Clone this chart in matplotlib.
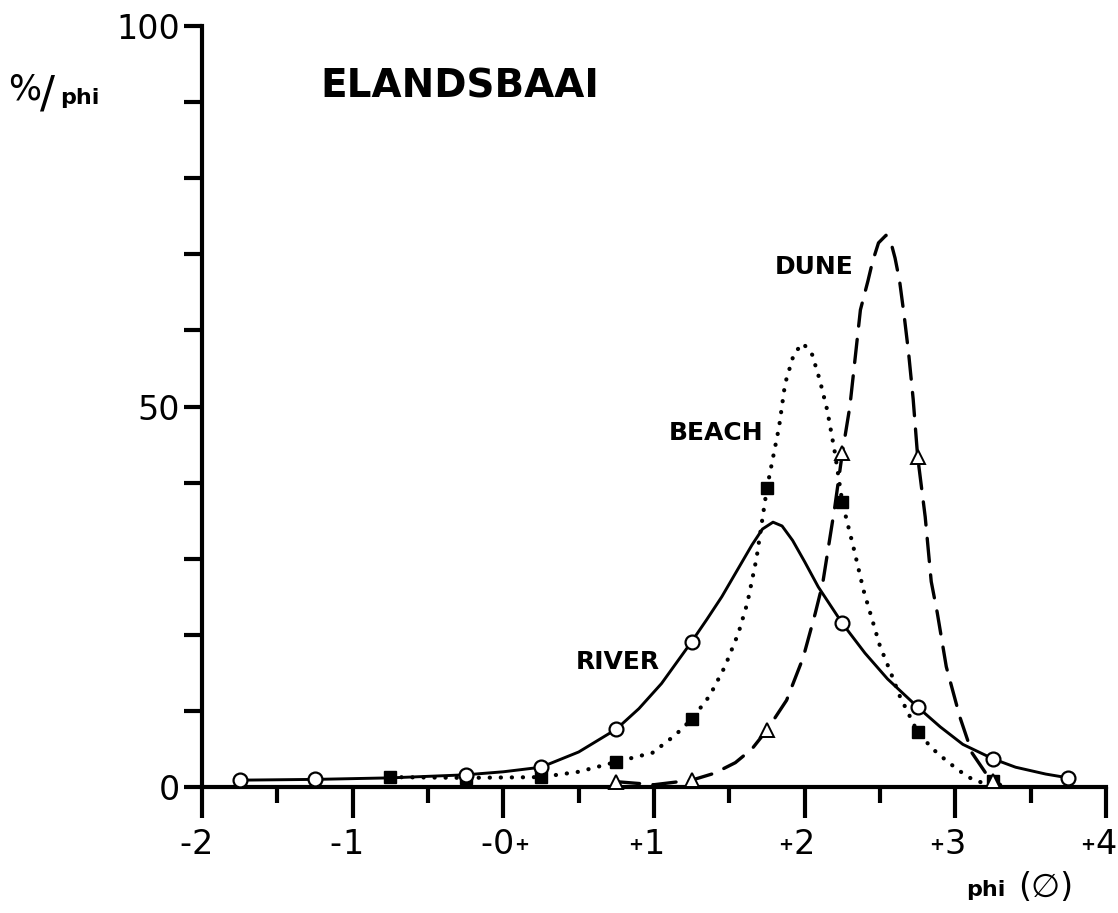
import matplotlib
matplotlib.use("Agg")
import matplotlib.pyplot as plt
from matplotlib.ticker import MultipleLocator, FixedLocator
from matplotlib.transforms import ScaledTranslation, blended_transform_factory

# Messpunkte (Marker)
river_x = [-1.75, -1.25, -0.25, 0.25, 0.75, 1.25, 2.25, 2.75, 3.25, 3.75]
river_y = [0.9, 1.0, 1.6, 2.6, 7.6, 19.1, 21.5, 10.5, 3.7, 1.2]

beach_x = [-0.75, -0.25, 0.25, 0.75, 1.25, 1.75, 2.25, 2.75, 3.25]
beach_y = [1.3, 1.2, 1.3, 3.3, 8.9, 39.3, 37.4, 7.2, 0.8]

dune_x = [0.75, 1.25, 1.75, 2.25, 2.75, 3.25]
dune_y = [0.7, 0.9, 7.5, 43.9, 43.4, 0.8]

river_curve_x = [-1.75, -1.25, -0.75, -0.25, 0.0, 0.25, 0.5, 0.75, 0.9, 1.05, 1.25,
                 1.35, 1.45, 1.55, 1.65, 1.72, 1.79, 1.85, 1.92, 2.0, 2.09, 2.25,
                 2.4, 2.55, 2.75, 2.9, 3.05, 3.25, 3.4, 3.6, 3.75]
river_curve_y = [0.9, 1.0, 1.2, 1.6, 2.0, 2.6, 4.6, 7.6, 10.3, 13.6, 19.1,
                 22.0, 25.0, 28.4, 31.8, 33.9, 34.8, 34.3, 32.4, 29.6, 26.3, 21.5,
                 17.6, 14.2, 10.5, 7.9, 5.6, 3.7, 2.6, 1.7, 1.2]

beach_curve_x = [-0.75, -0.25, 0.25, 0.5, 0.75, 0.99, 1.14, 1.25, 1.37, 1.47, 1.56,
                 1.62, 1.68, 1.75, 1.83, 1.87, 1.93, 1.99, 2.05, 2.1, 2.15, 2.2,
                 2.25, 2.33, 2.39, 2.5, 2.57, 2.63, 2.75, 2.85, 2.95, 3.05, 3.13, 3.25]
beach_curve_y = [1.3, 1.2, 1.3, 2.0, 3.3, 4.5, 6.8, 8.9, 12.0, 15.8, 20.2,
                 24.2, 30.0, 39.3, 47.3, 53.0, 57.0, 58.3, 56.8, 53.5, 49.5, 44.0,
                 37.4, 31.0, 25.9, 18.5, 15.1, 12.0, 7.2, 5.0, 3.3, 1.8, 0.8, 0.3]

dune_curve_x = [0.75, 1.0, 1.25, 1.4, 1.54, 1.65, 1.75, 1.88, 1.99, 2.07, 2.12, 2.2,
                2.25, 2.3, 2.37, 2.42, 2.45, 2.49, 2.54, 2.58, 2.6, 2.63, 2.66, 2.69,
                2.72, 2.75, 2.8, 2.84, 2.88, 2.94, 3.03, 3.11, 3.22, 3.3]
dune_curve_y = [0.7, 0.3, 0.9, 1.8, 3.2, 5.0, 7.5, 11.4, 17.0, 22.8, 26.8, 36.8,
                43.9, 50.0, 62.7, 66.5, 69.0, 71.5, 72.5, 71.0, 69.5, 66.5, 62.0, 57.0,
                51.0, 43.4, 35.5, 27.0, 22.9, 15.8, 9.2, 4.5, 1.3, 0.3]

# Achsenbeschriftung: (Position, Vorzeichen links, Ziffer, Zeichen rechts)
x_ticks = [-2, -1, 0, 1, 2, 3, 4]
x_tick_signs = ["-", "-", "-", "+", "+", "+", "+"]
x_tick_digits = ["2", "1", "0", "1", "2", "3", "4"]
x_tick_suffix = ["", "", "+", "", "", "", ""]
y_ticks = [0, 50, 100]

W, H = 1118, 913
fig = plt.figure(figsize=(W / 100, H / 100), dpi=100)
ax = fig.add_axes([202 / W, 1 - 787 / H, 904 / W, 761 / H])


def px(x, y):
    """Pixelkoordinaten (oben links) -> Figurkoordinaten."""
    return x / W, 1 - y / H


# Kurven
ax.plot(river_curve_x, river_curve_y, color="black", lw=2.1, ls="-",
        solid_capstyle="round", solid_joinstyle="round", zorder=2, clip_on=False)
ax.plot(beach_curve_x, beach_curve_y, color="black", lw=3.0, ls=(0, (0.05, 2.6)),
        dash_capstyle="round", zorder=2, clip_on=False)
ax.plot(dune_curve_x, dune_curve_y, color="black", lw=2.4, ls=(0, (7, 4)),
        dash_capstyle="round", dash_joinstyle="round", zorder=2, clip_on=False)

# Marker
ax.plot(beach_x, beach_y, ls="none", marker="s", ms=9, mfc="black", mec="black",
        zorder=4, clip_on=False)
ax.plot(river_x, river_y, ls="none", marker="o", ms=10, mfc="white", mec="black",
        mew=1.6, zorder=5, clip_on=False)
ax.plot(dune_x, dune_y, ls="none", marker="^", ms=9.5, mfc="white", mec="black",
        mew=1.4, zorder=5, clip_on=False)

ax.set_xlim(-2, 4)
ax.set_ylim(0, 100)

for side in ["top", "right"]:
    ax.spines[side].set_visible(False)
for side in ["left", "bottom"]:
    ax.spines[side].set_linewidth(3)

ax.xaxis.set_major_locator(FixedLocator(x_ticks))
ax.xaxis.set_minor_locator(MultipleLocator(0.5))
ax.yaxis.set_major_locator(FixedLocator(y_ticks))
ax.yaxis.set_minor_locator(MultipleLocator(10))

ax.tick_params(axis="x", which="major", direction="out", length=22, width=3,
               labelbottom=False)
ax.tick_params(axis="x", which="minor", direction="out", length=11.5, width=3)
ax.tick_params(axis="y", which="both", direction="out", length=13, width=3,
               labelsize=24, pad=3)

# x-Tickbeschriftung von Hand: Ziffer unter dem Strich, kleines Vorzeichen daneben
trans = blended_transform_factory(ax.transData, ax.transAxes)
for xt, sign, digit, suf in zip(x_ticks, x_tick_signs, x_tick_digits, x_tick_suffix):
    ax.text(xt, -0.076, digit, fontsize=24, ha="center", va="center",
            transform=trans, clip_on=False)
    off_l = trans + ScaledTranslation(-8 / 72, 0, fig.dpi_scale_trans)
    if sign == "-":
        ax.text(xt, -0.076, sign, fontsize=24, ha="right", va="center",
                transform=off_l, clip_on=False)
    else:
        ax.text(xt, -0.076, sign, fontsize=13, fontweight="bold", ha="right",
                va="center", transform=off_l, clip_on=False)
    if suf:
        off_r = trans + ScaledTranslation(8 / 72, 0, fig.dpi_scale_trans)
        ax.text(xt, -0.076, suf, fontsize=13, fontweight="bold", ha="left",
                va="center", transform=off_r, clip_on=False)

# Beschriftungen
ax.text(-1.215, 92.0, "ELANDSBAAI", fontsize=28, fontweight="bold",
        ha="left", va="center")
ax.text(0.76, 16.4, "RIVER", fontsize=18, fontweight="bold", ha="center", va="center")
ax.text(1.41, 46.5, "BEACH", fontsize=18, fontweight="bold", ha="center", va="center")
ax.text(2.06, 68.3, "DUNE", fontsize=18, fontweight="bold", ha="center", va="center")

# y-Achsentitel "%/phi"
fig.text(*px(8, 90), "%", fontsize=25, ha="left", va="center")
fig.text(*px(40, 95), "/", fontsize=32, ha="left", va="center")
fig.text(*px(60, 98), "phi", fontsize=16, fontweight="bold", ha="left", va="center")

# x-Achsentitel "phi (ϕ)"
fig.text(*px(966, 890), "phi", fontsize=16, fontweight="bold", ha="left", va="center")
fig.text(*px(1018, 887), "(∅)", fontsize=24, ha="left", va="center")

fig.savefig("out.png", dpi=100)
